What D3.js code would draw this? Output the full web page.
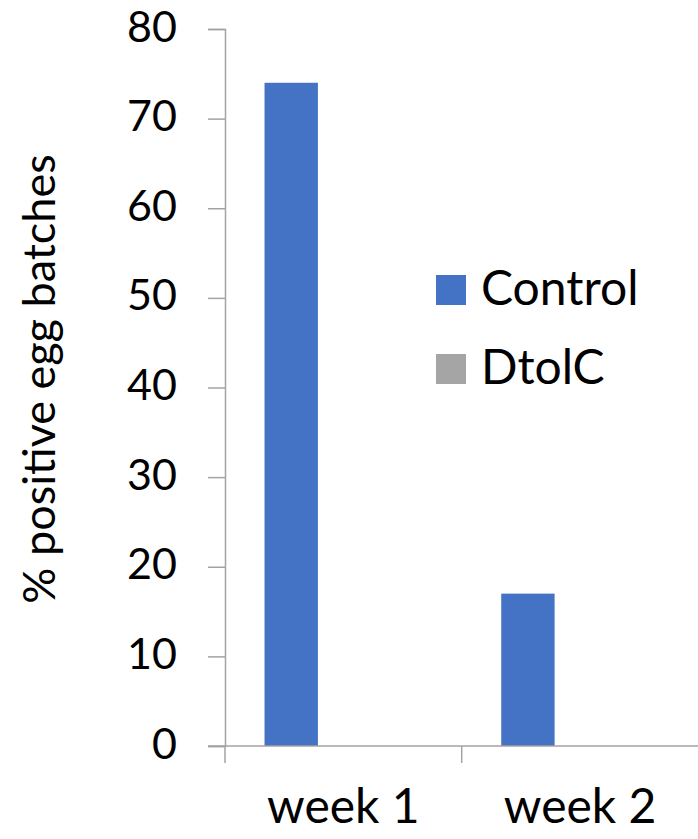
<!DOCTYPE html>
<html>
<head>
<meta charset="utf-8">
<script src="https://cdn.jsdelivr.net/npm/d3@7"></script>
<style>
  html, body { margin: 0; padding: 0; background: #ffffff; }
  svg { display: block; }
  text { font-family: Lato, "Open Sans", sans-serif; fill: #000; }
</style>
</head>
<body>
<svg id="chart" width="698" height="839"></svg>
<script>
// Weekly share of egg batches that tested positive, by treatment group
const weeks = ["week 1", "week 2"];
const series = ["Control", "DtolC"];
const control = [74, 17];
const dtolc = [0, 0];
const yTicks = [0, 10, 20, 30, 40, 50, 60, 70, 80];
const colors = ["#4472C4", "#A5A5A5"];

const values = [control, dtolc];
const rows = weeks.map((w, i) => ({ week: w, vals: series.map((s, j) => ({ series: s, value: values[j][i] })) }));

const svg = d3.select("#chart");
const plot = { left: 225, right: 698.4, top: 29, bottom: 746 };
const axisColor = "#a3a3a3";

const x0 = d3.scaleBand().domain(weeks).range([plot.left, plot.right]).padding(0);
const bw = x0.bandwidth();
const x1 = d3.scaleBand().domain(series).range([bw * 0.167, bw * 0.618]).padding(0);
const y = d3.scaleLinear().domain([0, 80]).range([plot.bottom, plot.top]);

// Bars
svg.append("g").selectAll("g").data(rows).join("g")
  .attr("transform", d => `translate(${x0(d.week)},0)`)
  .selectAll("rect").data(d => d.vals).join("rect")
  .attr("x", d => x1(d.series))
  .attr("width", x1.bandwidth())
  .attr("y", d => y(d.value))
  .attr("height", d => y(0) - y(d.value))
  .attr("fill", (d, i) => colors[i]);

// Value axis
const yAxis = svg.append("g")
  .attr("transform", `translate(${plot.left},0)`)
  .call(d3.axisLeft(y).tickValues(yTicks).tickSize(17).tickPadding(31).tickFormat(d3.format("d")));
yAxis.select(".domain").attr("stroke", axisColor).attr("stroke-width", 1.5);
yAxis.selectAll(".tick line").attr("stroke", axisColor).attr("stroke-width", 1.5);
yAxis.selectAll(".tick text")
  .attr("font-size", 43).attr("font-family", "Lato, sans-serif").attr("fill", "#000")
  .attr("dy", "0.28em");

// Category axis: baseline plus boundary ticks between weeks
svg.append("line")
  .attr("x1", plot.left - 17).attr("x2", plot.right)
  .attr("y1", y(0)).attr("y2", y(0))
  .attr("stroke", axisColor).attr("stroke-width", 1.5);
svg.append("g").selectAll("line").data(weeks).join("line")
  .attr("x1", d => x0(d)).attr("x2", d => x0(d))
  .attr("y1", y(0)).attr("y2", y(0) + 17)
  .attr("stroke", axisColor).attr("stroke-width", 1.5);

const xAxis = svg.append("g")
  .attr("transform", `translate(0,${plot.bottom})`)
  .call(d3.axisBottom(x0).tickSize(0).tickPadding(0));
xAxis.select(".domain").remove();
xAxis.selectAll(".tick text")
  .attr("font-size", 48).attr("font-family", "Lato, sans-serif").attr("fill", "#000")
  .attr("dy", null).attr("y", 77);

// Axis title
svg.append("text")
  .attr("transform", `translate(55,379) rotate(-90)`)
  .attr("text-anchor", "middle")
  .attr("font-size", 45)
  .text("% positive egg batches");

// Legend
const legend = svg.append("g").attr("transform", "translate(436,275)");
const item = legend.selectAll("g").data(series).join("g")
  .attr("transform", (d, i) => `translate(0,${i * 79})`);
item.append("rect").attr("width", 30).attr("height", 30).attr("fill", (d, i) => colors[i]);
item.append("text").attr("x", 45).attr("y", 30).attr("font-size", 48).text(d => d);
</script>
</body>
</html>
